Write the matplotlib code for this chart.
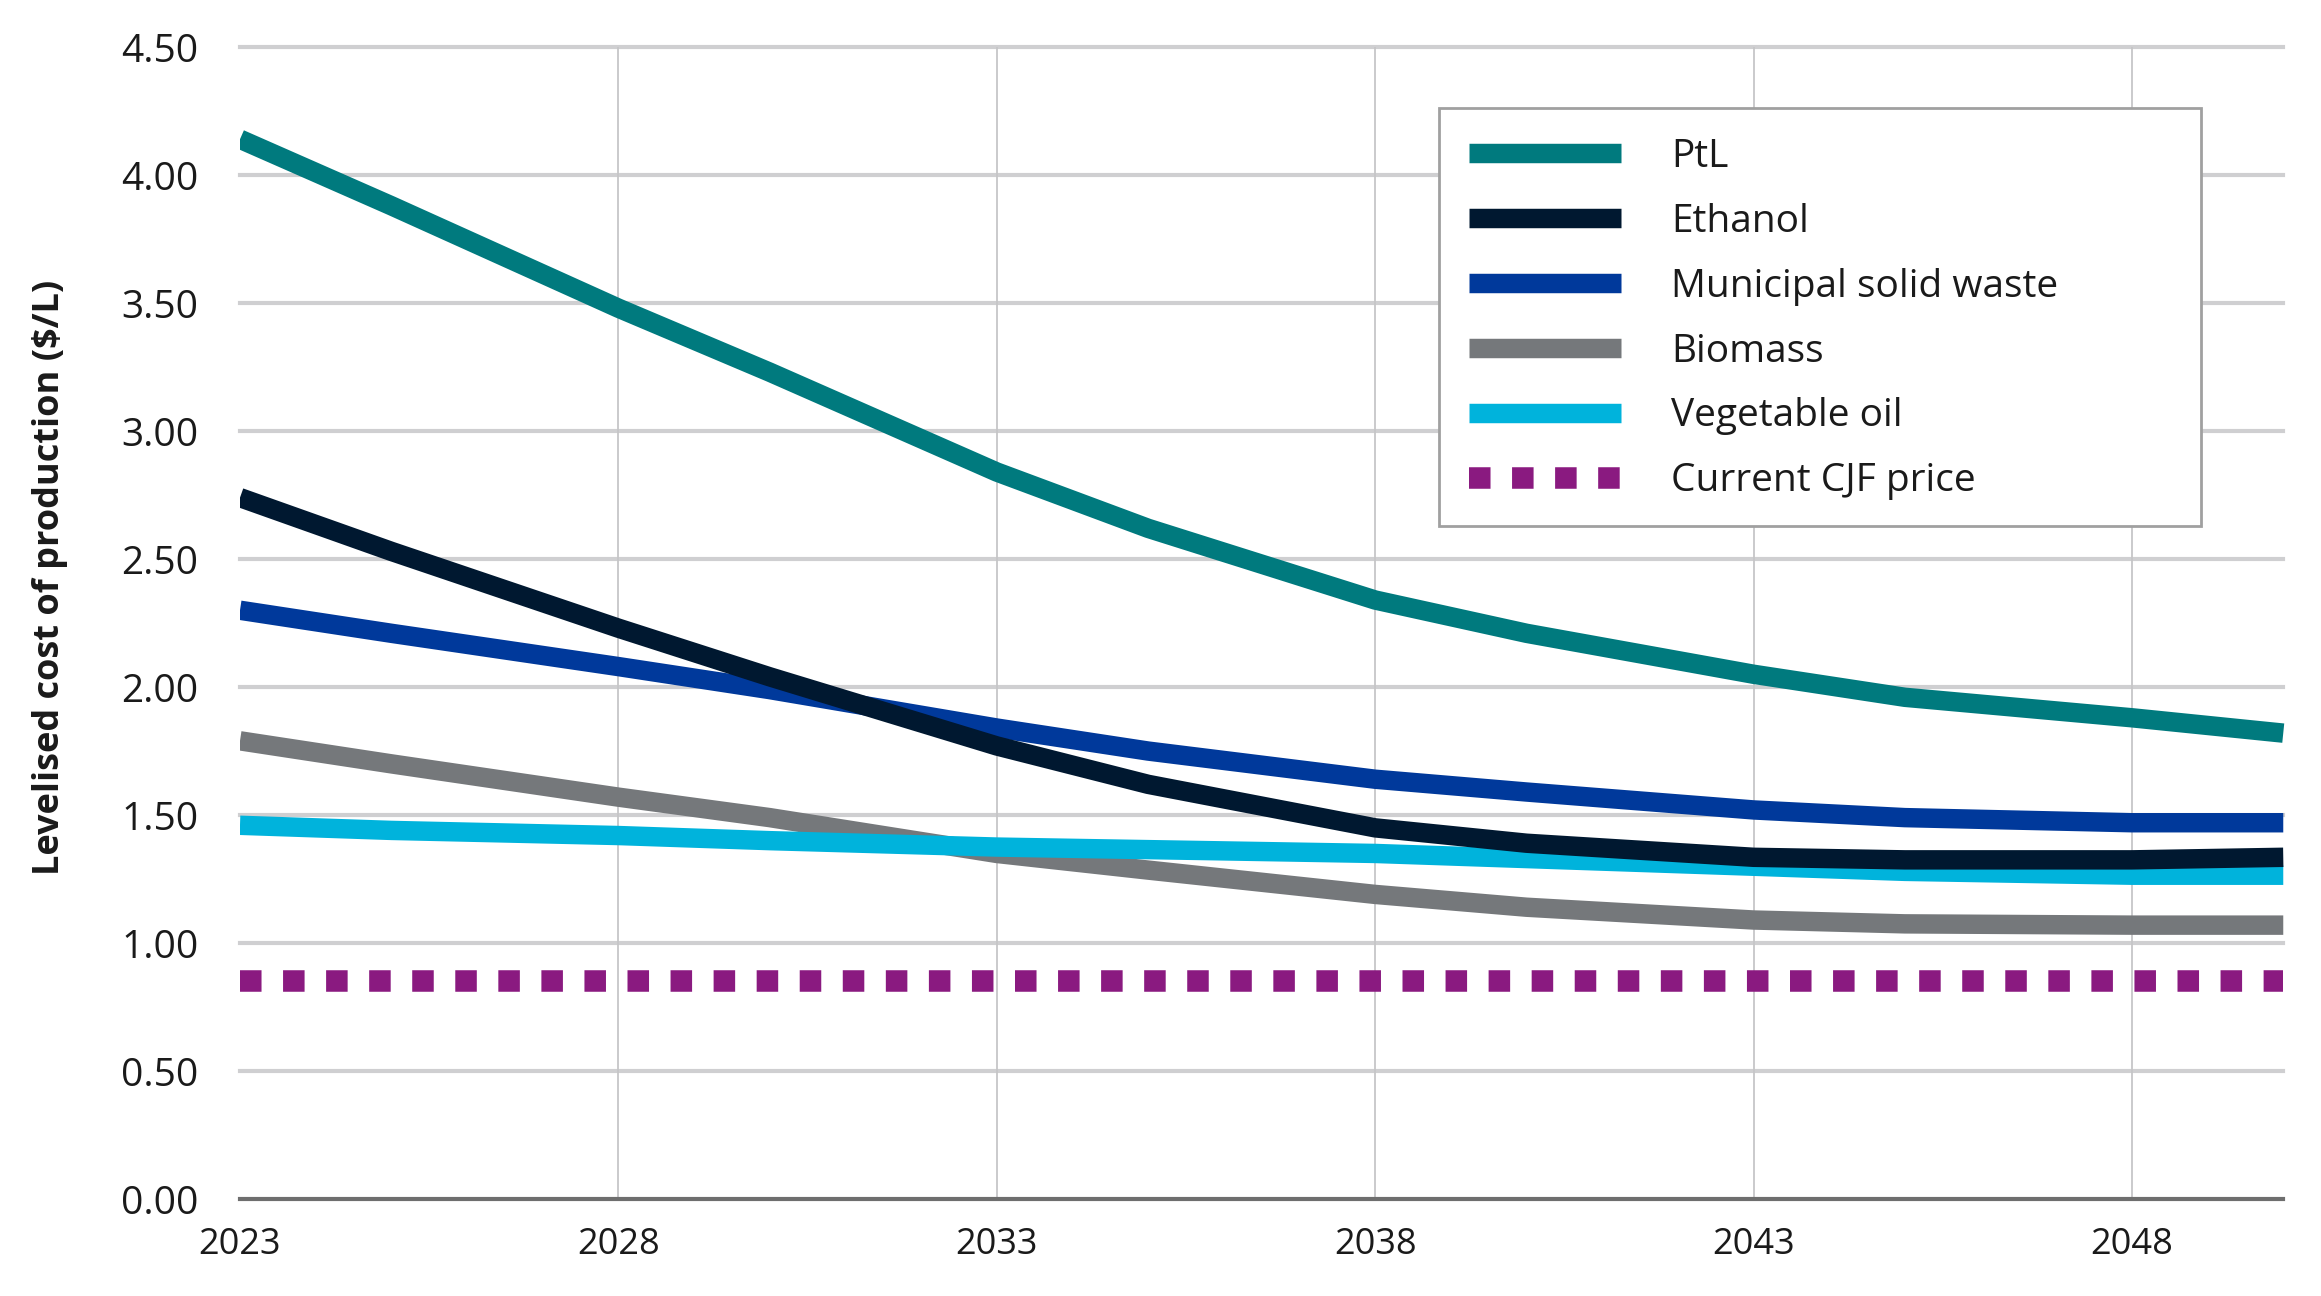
import matplotlib.pyplot as plt
from matplotlib.lines import Line2D
from matplotlib.patches import Rectangle

plt.rcParams['font.family'] = ['Open Sans', 'DejaVu Sans']

# Data ($/L)
years = [2023, 2025, 2028, 2030, 2033, 2035, 2038, 2040, 2043, 2045, 2048, 2050]
ptl = [4.14, 3.88, 3.48, 3.23, 2.84, 2.62, 2.34, 2.21, 2.05, 1.96, 1.88, 1.82]
ethanol = [2.74, 2.53, 2.23, 2.04, 1.77, 1.62, 1.45, 1.39, 1.335, 1.325, 1.325, 1.335]
msw = [2.30, 2.21, 2.08, 1.99, 1.84, 1.75, 1.64, 1.59, 1.52, 1.49, 1.47, 1.47]
biomass = [1.79, 1.70, 1.57, 1.49, 1.35, 1.285, 1.19, 1.14, 1.09, 1.075, 1.07, 1.07]
veg_oil = [1.46, 1.44, 1.42, 1.40, 1.375, 1.365, 1.35, 1.33, 1.30, 1.28, 1.265, 1.265]
cjf_price = 0.85

x_ticks = [2023, 2028, 2033, 2038, 2043, 2048]
y_ticks = [0, 0.5, 1.0, 1.5, 2.0, 2.5, 3.0, 3.5, 4.0, 4.5]

c_ptl = '#007A7E'
c_eth = '#001830'
c_msw = '#00399B'
c_bio = '#75787B'
c_veg = '#00B3DC'
c_cjf = '#8A1A80'

fig = plt.figure(figsize=(23.21, 12.96), dpi=100)
ax = fig.add_axes([0.1034, 0.0748, 0.8836, 0.8889])

lw = 14
dot_lw = 15.5
ax.plot(years, ptl, color=c_ptl, lw=lw, solid_capstyle='butt', solid_joinstyle='round', zorder=3)
ax.plot(years, msw, color=c_msw, lw=lw, solid_capstyle='butt', solid_joinstyle='round', zorder=3)
ax.plot(years, biomass, color=c_bio, lw=lw, solid_capstyle='butt', solid_joinstyle='round', zorder=3)
ax.plot(years, veg_oil, color=c_veg, lw=lw, solid_capstyle='butt', solid_joinstyle='round', zorder=4)
ax.plot(years, ethanol, color=c_eth, lw=lw, solid_capstyle='butt', solid_joinstyle='round', zorder=5)
ax.plot([years[0], years[-1]], [cjf_price, cjf_price], color=c_cjf, lw=dot_lw,
        linestyle=(0, (1, 1)), dash_capstyle='butt', zorder=3)

ax.set_xlim(2023, 2050.1)
ax.set_ylim(0, 4.5)
ax.set_xticks(x_ticks)
ax.set_yticks(y_ticks)
ax.set_yticklabels([f'{v:.2f}' for v in y_ticks])

for y in y_ticks[1:]:
    ax.axhline(y, xmin=0, xmax=0.996, color='#cfcfd1', lw=3, zorder=1, clip_on=False)
for x in x_ticks[1:]:
    ax.axvline(x, color='#c6c6c8', lw=1.3, zorder=1)
ax.axhline(0, xmin=0, xmax=0.996, color='#6e6e6e', lw=3, zorder=2, clip_on=False)

for s in ax.spines.values():
    s.set_visible(False)
ax.tick_params(axis='both', length=0, colors='#1a1a1a')
ax.tick_params(axis='y', pad=30, labelsize=28)
ax.tick_params(axis='x', pad=20, labelsize=26)
ax.set_ylabel('Levelised cost of production ($/L)', fontsize=26, fontweight='bold',
              color='#1a1a1a')
ax.yaxis.set_label_coords(-0.084, 0.54)

# legend frame drawn separately (the original box is wider than its text)
fig.patches.append(Rectangle((0.620, 0.5945), 0.3283, 0.3218, transform=fig.transFigure,
                             facecolor='white', edgecolor='#a0a0a0', lw=2, zorder=4))

handles = [
    Line2D([], [], color=c_ptl, lw=lw, solid_capstyle='butt'),
    Line2D([], [], color=c_eth, lw=lw, solid_capstyle='butt'),
    Line2D([], [], color=c_msw, lw=lw, solid_capstyle='butt'),
    Line2D([], [], color=c_bio, lw=lw, solid_capstyle='butt'),
    Line2D([], [], color=c_veg, lw=lw, solid_capstyle='butt'),
    Line2D([], [], color=c_cjf, lw=dot_lw, linestyle=(0, (1, 1)), dash_capstyle='butt'),
]
labels = ['PtL', 'Ethanol', 'Municipal solid waste', 'Biomass', 'Vegetable oil',
          'Current CJF price']
leg = fig.legend(handles, labels, loc='upper left', bbox_to_anchor=(0.6329, 0.8935),
                 fontsize=28, frameon=False, handlelength=3.9, handletextpad=1.3,
                 labelspacing=0.69, borderpad=0, borderaxespad=0)
leg.set_zorder(5)
for t in leg.get_texts():
    t.set_color('#1a1a1a')

fig.savefig('out.png', dpi=100, facecolor='white')
